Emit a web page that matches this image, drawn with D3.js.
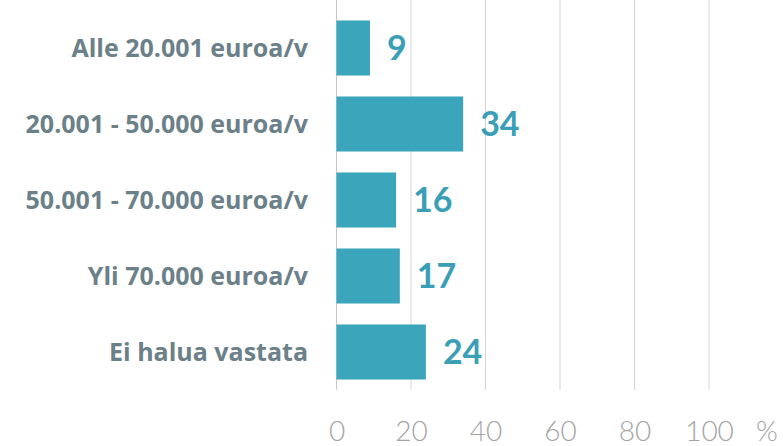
<!DOCTYPE html>
<html>
<head>
<meta charset="utf-8">
<script src="https://cdn.jsdelivr.net/npm/d3@7"></script>
<style>
  body { margin: 0; background: #fff; }
  svg { display: block; }
</style>
</head>
<body>
<div id="chart"></div>
<script>
// Données
const categories = ["Alle 20.001 euroa/v", "20.001 - 50.000 euroa/v", "50.001 - 70.000 euroa/v", "Yli 70.000 euroa/v", "Ei halua vastata"];
const values = [9, 34, 16, 17, 24];
const tickValues = [0, 20, 40, 60, 80, 100];
const unitLabel = "%";

// Dimensions
const width = 783, height = 446;
const margin = { top: 10, right: 74, bottom: 56, left: 336.5 };

const svg = d3.select("#chart")
    .append("svg")
    .attr("width", width)
    .attr("height", height);

// Échelles
const x = d3.scaleLinear()
    .domain([0, 100])
    .range([margin.left, width - margin.right]);

const y = d3.scaleBand()
    .domain(categories)
    .range([margin.top, height - margin.bottom])
    .paddingInner(0.276)
    .paddingOuter(0.138);

const fontFamily = "Lato, 'Open Sans', sans-serif";

// Grille verticale
svg.append("g")
    .selectAll("line")
    .data(tickValues)
    .enter()
    .append("line")
    .attr("x1", d => x(d))
    .attr("x2", d => x(d))
    .attr("y1", 0)
    .attr("y2", height - margin.bottom)
    .style("stroke", d => d === 0 ? "#c8c8c8" : "#d6d6d6")
    .style("stroke-width", 1);

// Barres
svg.append("g")
    .selectAll("rect")
    .data(values)
    .enter()
    .append("rect")
    .attr("x", x(0))
    .attr("y", (d, i) => y(categories[i]))
    .attr("width", d => x(d) - x(0))
    .attr("height", y.bandwidth())
    .style("fill", "#3aa5bb");

// Valeurs
svg.append("g")
    .selectAll("text")
    .data(values)
    .enter()
    .append("text")
    .attr("x", d => x(d) + 17)
    .attr("y", (d, i) => y(categories[i]) + y.bandwidth() / 2)
    .attr("dy", "0.36em")
    .text(d => d)
    .style("font-family", fontFamily)
    .style("font-weight", "bold")
    .style("font-size", "34px")
    .style("fill", "#3a9fb6");

// Libellés des catégories
svg.append("g")
    .selectAll("text")
    .data(categories)
    .enter()
    .append("text")
    .attr("x", 308)
    .attr("y", d => y(d) + y.bandwidth() / 2)
    .attr("dy", "0.36em")
    .text(d => d)
    .style("font-family", "'Open Sans', sans-serif")
    .style("font-weight", "bold")
    .style("font-size", "25px")
    .style("fill", "#6b8088")
    .style("text-anchor", "end");

// Axe X (étiquettes seulement)
const axis = svg.append("g")
    .attr("transform", `translate(0, ${height - margin.bottom})`)
    .call(d3.axisBottom(x).tickValues(tickValues).tickSize(0).tickPadding(31));
axis.select(".domain").remove();
axis.selectAll("text")
    .style("font-family", fontFamily)
    .style("font-weight", "300")
    .style("font-size", "28px")
    .style("fill", "#a4a4a4");

svg.append("text")
    .attr("x", 767)
    .attr("y", height - margin.bottom + 31)
    .attr("dy", "0.71em")
    .text(unitLabel)
    .style("font-family", fontFamily)
    .style("font-weight", "300")
    .style("font-size", "28px")
    .style("fill", "#a4a4a4")
    .style("text-anchor", "middle");
</script>
</body>
</html>
